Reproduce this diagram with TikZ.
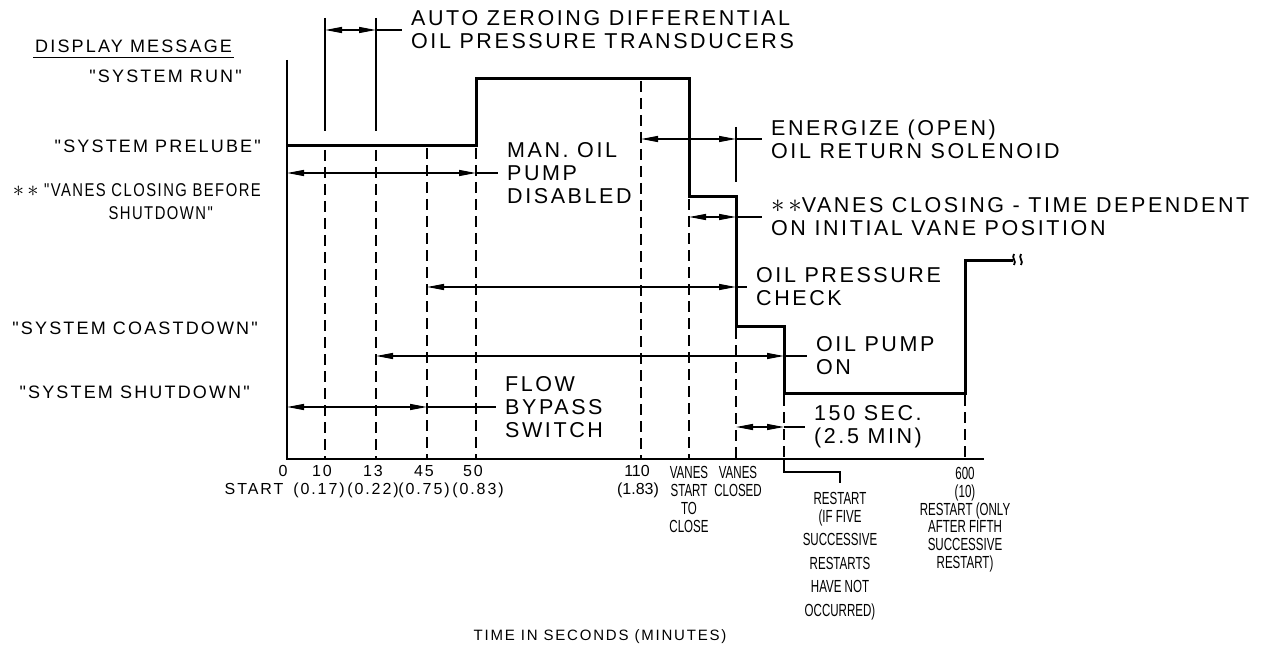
\documentclass[tikz,border=0pt]{standalone}
\usepackage{fontspec}
\setmainfont[LetterSpace=12, Ligatures=TeXOff]{Liberation Sans}
\newfontfamily\condfont[FakeStretch=0.8, LetterSpace=8, Ligatures=TeXOff]{Liberation Sans}
\newfontfamily\narrowfont[FakeStretch=0.66]{Liberation Sans}
\newfontfamily\plainfont{Liberation Sans}
\usetikzlibrary{arrows.meta}
\newcommand{\twostar}{\scalebox{1.3}{$\ast$}\,\scalebox{1.3}{$\ast$}}

\begin{document}
\begin{tikzpicture}[x=1pt, y=-1pt, >={Triangle[length=17pt, width=6pt]},
    axisline/.style={line width=1.5pt},
    signal/.style={line width=3pt, line join=miter},
    guide/.style={line width=1.3pt, dash pattern=on 11pt off 6pt},
    extline/.style={line width=1.3pt},
    dim/.style={line width=1.3pt, <->},
    big/.style={font=\fontsize{21.5}{23}\selectfont, align=left, anchor=west, inner xsep=9pt, inner ysep=0pt},
    msg/.style={font=\fontsize{18}{20}\selectfont, inner sep=0pt},
    num/.style={font=\fontsize{16}{18}\selectfont, inner sep=0pt, anchor=base},
    narrow/.style={font=\fontsize{17.5}{18}\narrowfont, align=center, inner sep=0pt, anchor=north},
]
    \useasboundingbox (0,0) rectangle (1269,647);

    % Time marks on the axis
    \foreach \name/\xpos in {m0/287, m10/325, m13/376, m45/427, m50/476, m110/641, mvs/689, mvc/736, mrs/784, m600/965}
        \coordinate (\name) at (\xpos, 459);

    % Display levels
    \coordinate (lrun) at (0, 79);
    \coordinate (lpre) at (0, 146);
    \coordinate (lvane) at (0, 197);
    \coordinate (lcoast) at (0, 326);
    \coordinate (lshut) at (0, 393);
    \coordinate (lagain) at (0, 260);

    % Axes
    \draw[axisline] (287,60) -- (m0) -- (984,459);

    % Dashed guides
    \foreach \m/\top in {m10/150, m13/150, m45/148, m50/148, m110/81, mvs/199, mvc/328, mrs/395, m600/395}
        \draw[guide] (\m |- 0,\top) -- (\m);

    % Extension lines
    \draw[extline] (325,18) -- (325,131);
    \draw[extline] (376,18) -- (376,131);
    \draw[extline] (736,127) -- (736,182);

    % Display message signal
    \draw[signal] (m0 |- lpre) -- (m50 |- lpre) -- (m50 |- lrun) -- (mvs |- lrun)
        -- (mvs |- lvane) -- (mvc |- lvane) -- (mvc |- lcoast) -- (mrs |- lcoast)
        -- (mrs |- lshut) -- (m600 |- lshut) -- (m600 |- lagain) -- (1013,260);
    \draw[line width=1.8pt] (1014,254) .. controls (1011,258) and (1017,261) .. (1014,265);
    \draw[line width=1.8pt] (1021,254) .. controls (1018,258) and (1024,261) .. (1021,265);

    % Display messages
    \node[msg, anchor=west] (dispmsg) at (35,46) {DISPLAY MESSAGE};
    \draw[extline] ([xshift=-2pt, yshift=-5pt]dispmsg.south west) -- ([xshift=2pt, yshift=-5pt]dispmsg.south east);
    \node[msg, anchor=east] (msgrun) at (242,76) {"SYSTEM RUN"};
    \node[msg, anchor=east] (msgprelube) at (261,146) {"SYSTEM PRELUBE"};
    \node[msg, anchor=east, font=\fontsize{18.5}{20}\condfont] (msgvanes) at (261,190) {\twostar\ "VANES CLOSING BEFORE};
    \node[msg, anchor=east, font=\fontsize{18.5}{20}\condfont] (msgvanesb) at (213,213) {SHUTDOWN"};
    \node[msg, anchor=east] (msgcoast) at (258,328) {"SYSTEM COASTDOWN"};
    \node[msg, anchor=east] (msgshut) at (250,392) {"SYSTEM SHUTDOWN"};

    % Auto zeroing
    \node[big] (autozero) at (402,30) {AUTO ZEROING DIFFERENTIAL\\OIL PRESSURE TRANSDUCERS};
    \draw[dim] (m10 |- autozero.west) -- (m13 |- autozero.west);
    \draw[extline] (m13 |- autozero.west) -- (autozero.west);

    % Manual oil pump
    \node[big] (manoil) at (498,173) {MAN. OIL\\PUMP\\DISABLED};
    \draw[dim] (m0 |- manoil.west) -- (m50 |- manoil.west);
    \draw[extline] (m50 |- manoil.west) -- (manoil.west);

    % Oil return solenoid
    \node[big] (energize) at (762,139) {ENERGIZE (OPEN)\\OIL RETURN SOLENOID};
    \draw[dim] (m110 |- energize.west) -- (mvc |- energize.west);
    \draw[extline] (mvc |- energize.west) -- (energize.west);

    % Vanes closing
    \node[big] (vaneclose) at (762,217) {\twostar VANES CLOSING - TIME DEPENDENT\\ON INITIAL VANE POSITION};
    \draw[dim] (mvs |- vaneclose.west) -- (mvc |- vaneclose.west);
    \draw[extline] (mvc |- vaneclose.west) -- (vaneclose.west);

    % Oil pressure check
    \node[big] (oilcheck) at (747,287) {OIL PRESSURE\\CHECK};
    \draw[dim] (m45 |- oilcheck.west) -- (mvc |- oilcheck.west);
    \draw[extline] (mvc |- oilcheck.west) -- (oilcheck.west);

    % Oil pump on
    \node[big] (oilpump) at (807,356) {OIL PUMP\\ON};
    \draw[dim] (m13 |- oilpump.west) -- (mrs |- oilpump.west);
    \draw[extline] (mrs |- oilpump.west) -- (oilpump.west);

    % Flow bypass switch
    \node[big] (bypass) at (496,407) {FLOW\\BYPASS\\SWITCH};
    \draw[dim] (m0 |- bypass.west) -- (m45 |- bypass.west);
    \draw[extline] (m45 |- bypass.west) -- (bypass.west);

    % Restart delay
    \node[big] (delay) at (805,427) {150 SEC.\\(2.5 MIN)};
    \draw[dim] (mvc |- delay.west) -- (mrs |- delay.west);
    \draw[extline] (mrs |- delay.west) -- (delay.west);

    % Axis labels
    \node[num] (sec0) at (283,476) {0};
    \node[num] (start) at (254,494) {START};
    \foreach \m/\sec/\mins/\dx in {m10/10/0.17/-6, m13/13/0.22/-3, m45/45/0.75/-3, m50/50/0.83/2} {
        \node[num, xshift=-3pt] (sec\sec) at (\m |- 0,476) {\sec};
        \node[num, xshift=\dx pt] (min\sec) at (\m |- 0,494) {(\mins)};
    }
    \node[num, font=\fontsize{16}{18}\plainfont, xshift=-4pt] (sec110) at (m110 |- 0,476) {110};
    \node[num, font=\fontsize{16}{18}\plainfont, xshift=-3pt] (min110) at (m110 |- 0,494) {(1.83)};
    \node[narrow] (vstart) at (mvs |- 0,466) {VANES\\START\\TO\\CLOSE};
    \node[narrow, xshift=2pt] (vclosed) at (mvc |- 0,466) {VANES\\CLOSED};
    \node[narrow, font=\fontsize{17.5}{23.5}\narrowfont] (restart) at (840,492)
        {RESTART\\[-5.5pt](IF FIVE\\SUCCESSIVE\\RESTARTS\\HAVE NOT\\OCCURRED)};
    \draw[extline] (mrs) -- ++(0,13) -| ([yshift=9pt]restart.north);
    \node[narrow, font=\fontsize{17.5}{17.8}\narrowfont] (sec600) at (m600 |- 0,467)
        {600\\(10)\\RESTART (ONLY\\AFTER FIFTH\\SUCCESSIVE\\RESTART)};
    \node[font=\fontsize{15}{18}\selectfont, inner sep=0pt] (timelabel) at (600,637) {TIME IN SECONDS (MINUTES)};
\end{tikzpicture}
\end{document}
